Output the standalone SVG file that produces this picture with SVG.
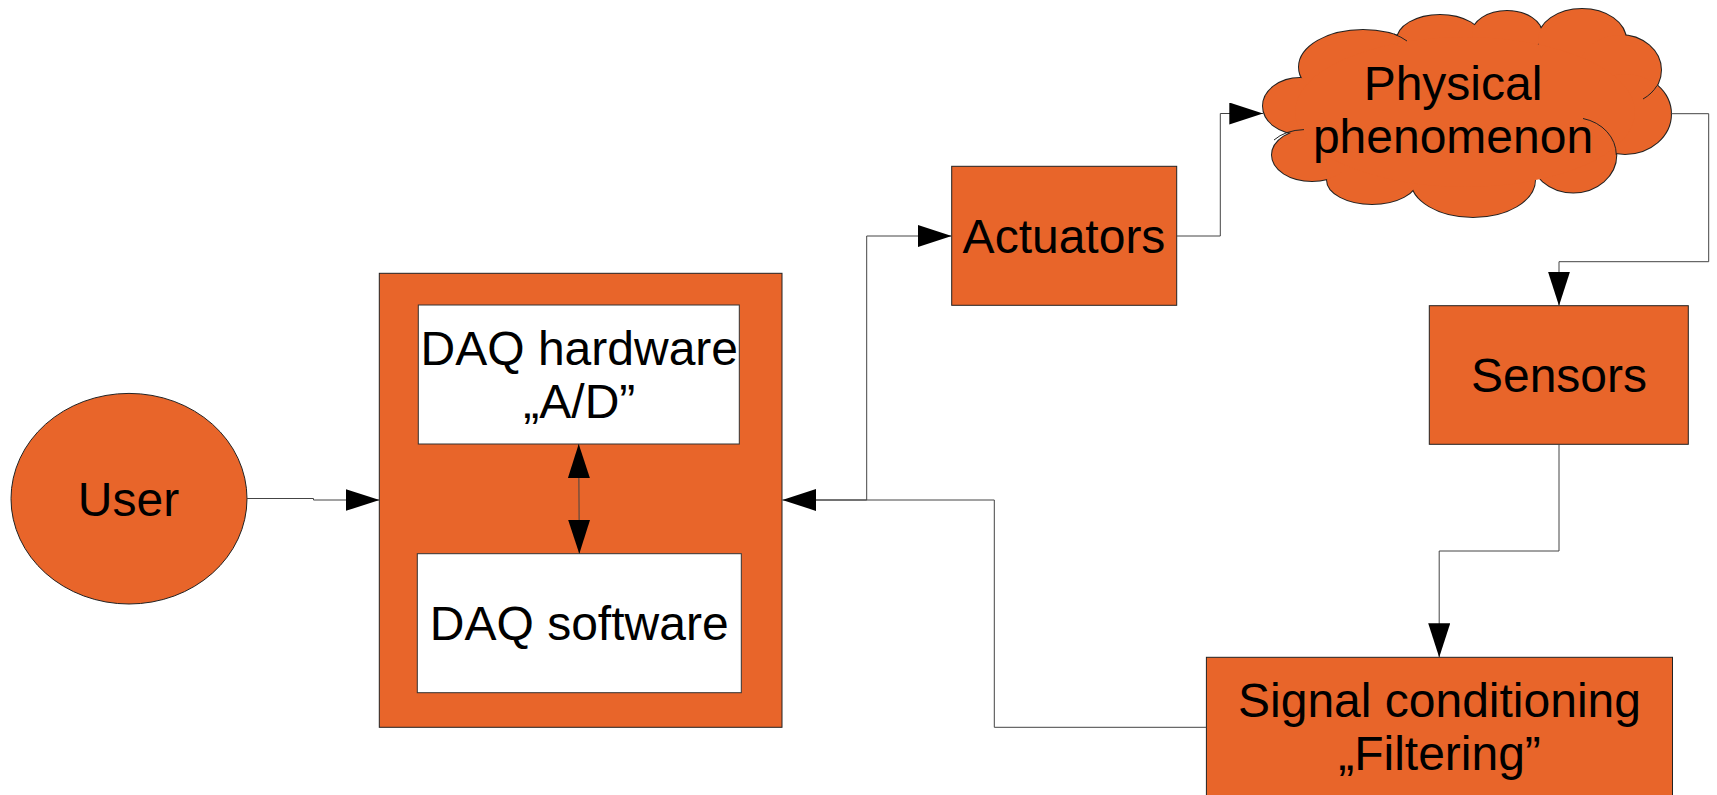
<svg xmlns="http://www.w3.org/2000/svg" width="1717" height="795" viewBox="0 0 1717 795">
  <style>
    .node { fill: #e8652a; stroke: #222; stroke-width: 1; }
    .inner { fill: #ffffff; stroke: #333; stroke-width: 1; }
    .label { font-family: "Liberation Sans", Arial, sans-serif; font-size: 48px; fill: #000; text-anchor: middle; }
    .wire { fill: none; stroke: #444; stroke-width: 1; }
    .bump-edge { fill: #e8652a; stroke: #222; stroke-width: 2; }
    .bump-fill { fill: #e8652a; stroke: none; }
    .bump-arc { fill: none; stroke: #222; stroke-width: 1; }
  </style>
  <defs>
    <marker id="arrow" markerUnits="userSpaceOnUse" markerWidth="34" markerHeight="22" refX="34" refY="11" orient="auto-start-reverse">
      <path d="M0,0 L34,11 L0,22 Z" fill="#000"/>
    </marker>
    <!-- lobes that make up the cloud outline -->
    <g id="cloud-lobes">
      <ellipse cx="1300" cy="106" rx="37" ry="28"/>
      <ellipse cx="1363" cy="67" rx="64" ry="37"/>
      <ellipse cx="1440" cy="40" rx="43" ry="25"/>
      <ellipse cx="1507" cy="34" rx="35" ry="23"/>
      <ellipse cx="1582" cy="40" rx="44" ry="31"/>
      <ellipse cx="1620" cy="70" rx="41" ry="35"/>
      <ellipse cx="1625" cy="114" rx="46" ry="40"/>
      <ellipse cx="1573.3" cy="155" rx="43" ry="37.5"/>
      <ellipse cx="1473" cy="180" rx="62" ry="37"/>
      <ellipse cx="1372" cy="180" rx="45" ry="24"/>
      <ellipse cx="1312" cy="155" rx="40" ry="26"/>
    </g>
  </defs>

  <rect width="1717" height="795" fill="#ffffff"/>

  <!-- User -->
  <g id="user">
    <ellipse class="node" cx="129" cy="498.7" rx="118" ry="105.3"/>
    <text class="label" x="128.5" y="515.7">User</text>
  </g>

  <!-- DAQ unit with hardware and software parts -->
  <g id="daq">
    <rect class="node" x="379.3" y="273.3" width="402.7" height="454"/>
  </g>
  <g id="daq-hardware">
    <rect class="inner" x="418.3" y="305" width="321" height="139"/>
    <text class="label" x="579.3" y="365">DAQ hardware</text>
    <text class="label" x="579.3" y="417.7">„A/D”</text>
  </g>
  <g id="daq-software">
    <rect class="inner" x="417.3" y="553.7" width="324" height="139"/>
    <text class="label" x="579.2" y="640">DAQ software</text>
  </g>

  <!-- Actuators -->
  <g id="actuators">
    <rect class="node" x="951.7" y="166.3" width="225" height="139"/>
    <text class="label" x="1064" y="253.3">Actuators</text>
  </g>

  <!-- Physical phenomenon (cloud) -->
  <g id="physical-phenomenon">
    <use href="#cloud-lobes" class="bump-edge"/>
    <use href="#cloud-lobes" class="bump-fill"/>
    <ellipse class="bump-fill" cx="1465" cy="112" rx="170" ry="75"/>
    <path class="bump-arc" d="M1583,118.5 A43,37.5 0 0 1 1616.3,155"/>
    <path class="bump-arc" d="M1657,85.6 A41,35 0 0 1 1643,99"/>
    <path class="bump-arc" d="M1394,34 A64,37 0 0 1 1407,41"/>
    <path class="bump-arc" d="M1274,140 A40,26 0 0 1 1304,129.6"/>
    <text class="label" x="1453" y="100">Physical</text>
    <text class="label" x="1453" y="153">phenomenon</text>
  </g>

  <!-- Sensors -->
  <g id="sensors">
    <rect class="node" x="1429.3" y="305.7" width="259" height="138.6"/>
    <text class="label" x="1559" y="392.3">Sensors</text>
  </g>

  <!-- Signal conditioning -->
  <g id="signal-conditioning">
    <rect class="node" x="1206.4" y="657.3" width="466.1" height="200"/>
    <text class="label" x="1439.5" y="716.7">Signal conditioning</text>
    <text class="label" x="1439.5" y="770">„Filtering”</text>
  </g>

  <!-- connectors -->
  <g id="connectors">
    <path class="wire" d="M247,498.5 H313.5 V500 H379.5" marker-end="url(#arrow)"/>
    <path class="wire" d="M578.7,444 L579.3,553.7" marker-start="url(#arrow)" marker-end="url(#arrow)"/>
    <path class="wire" d="M1206.4,727.3 H994.3 V500 H782.3" marker-end="url(#arrow)"/>
    <path class="wire" d="M816,500 H866.7 V236 H951.7" marker-end="url(#arrow)"/>
    <path class="wire" d="M1176.7,236 H1220.3 V113.5 H1263.3" marker-end="url(#arrow)"/>
    <path class="wire" d="M1670.7,113.7 H1708.7 V261.7 H1559 V305.7" marker-end="url(#arrow)"/>
    <path class="wire" d="M1559,444.3 V551 H1439.2 V657.3" marker-end="url(#arrow)"/>
  </g>
</svg>
